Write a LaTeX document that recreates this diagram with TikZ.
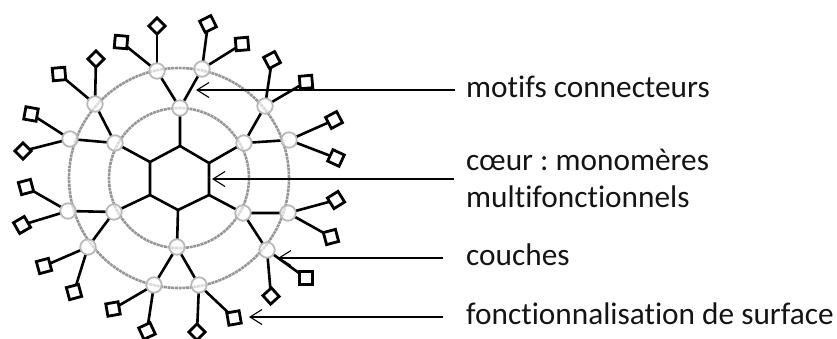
\documentclass[tikz,border=0pt]{standalone}
\usepackage{fontspec}
\setmainfont[Ligatures=NoCommon]{Carlito}
\usetikzlibrary{arrows.meta}
\definecolor{ringgrey}{RGB}{150,150,150}
\definecolor{hubgrey}{RGB}{185,185,185}
\definecolor{inktext}{RGB}{20,20,20}
\tikzset{
  x=1pt,y=-1pt,
  ring/.style={draw=ringgrey,line width=2.6pt,dash pattern=on 3pt off 0.7pt},
  hubbase/.style={circle,fill=white,minimum size=15.5pt,inner sep=0pt},
  hub/.style={circle,draw=hubgrey,line width=1.8pt,fill=white,fill opacity=0.65,draw opacity=1,minimum size=15.5pt,inner sep=0pt},
  bond/.style={draw=black,line width=2.6pt},
  endsq/.style={rectangle,draw=black,line width=2.8pt,fill=white,minimum size=12.5pt,inner sep=0pt},
  enddi/.style={endsq,minimum size=11.5pt},
  pointer/.style={draw=black,line width=1.2pt,-{Straight Barb[length=12pt,width=15pt,line width=1.1pt]}},
  lab/.style={anchor=base west,font=\fontsize{31.3}{37}\selectfont\frenchspacing,text=inktext,align=left,inner sep=0pt},
}
\begin{document}
\begin{tikzpicture}
\useasboundingbox (0,0) rectangle (837,338);
% core
\coordinate (h1) at (180,146);
\coordinate (h2) at (209,163);
\coordinate (h3) at (209,195);
\coordinate (h4) at (178,210);
\coordinate (h5) at (150,195);
\coordinate (h6) at (150,162);
\draw[bond,line join=miter] (h1)--(h2)--(h3)--(h4)--(h5)--(h6)--cycle;
% inner hubs
\foreach \n/\p in {i1/{180,108},i2/{244,143},i3/{243,213},i4/{177,247},i5/{114,212},i6/{115,143}}
  \coordinate (\n) at (\p);
% outer hubs
\foreach \n/\p in {a1/{157,71},a2/{202,69},b1/{265,106},b2/{289,140},c1/{288,213},c2/{267,250},d1/{199,285},d2/{154,285},e1/{88,247},e2/{68,211},f1/{70,139},f2/{95,104}}
  \coordinate (\n) at (\p);
\draw[bond] (h1)--(i1) (h2)--(i2) (h3)--(i3) (h4)--(i4) (h5)--(i5) (h6)--(i6);
\draw[bond] (i1)--(a1) (i1)--(a2) (i2)--(b1) (i2)--(b2) (i3)--(c1) (i3)--(c2) (i4)--(d1) (i4)--(d2) (i5)--(e1) (i5)--(e2) (i6)--(f1) (i6)--(f2);
% terminal groups: name/position/rotation/hub
\foreach \n/\p/\r/\h/\s in {
 t1/{157,26}/45/a1/enddi, t2/{121,42}/-5/a1/endsq,
 t3/{208,24}/27/a2/endsq, t4/{242,44}/5/a2/endsq,
 t5/{272,60}/28/b1/endsq, t6/{306,82}/5/b1/endsq,
 t7/{334,120}/28/b2/endsq, t8/{336,158}/-25/b2/endsq,
 t9/{336,200}/32/c1/endsq, t10/{331,237}/15/c1/endsq,
 t11/{306,278}/0/c2/endsq, t12/{271,296}/42/c2/enddi,
 t13/{234,318}/10/d1/endsq, t14/{197,332}/45/d1/enddi,
 t15/{113,309}/10/d2/endsq, t16/{147,331}/25/d2/endsq,
 t17/{44,266}/15/e1/endsq, t18/{74,292}/15/e1/endsq,
 t19/{26,187}/15/e2/endsq, t20/{22,225}/30/e2/endsq,
 t21/{31,114}/-10/f1/endsq, t22/{23,151}/45/f1/enddi,
 t23/{59,74}/5/f2/endsq, t24/{96,59}/45/f2/enddi}{
  \draw[bond] (\h)--(\p);
  \node[\s,rotate=\r] (\n) at (\p) {};
}
\foreach \n in {i1,i2,i3,i4,i5,i6,a1,a2,b1,b2,c1,c2,d1,d2,e1,e2,f1,f2}
  \node[hubbase] (w\n) at (\n) {};
\draw[ring] (179,178) circle (110);
\draw[ring] (179,178) circle (70);
\foreach \n in {i1,i2,i3,i4,i5,i6,a1,a2,b1,b2,c1,c2,d1,d2,e1,e2,f1,f2}
  \node[hub] (n\n) at (\n) {};
% labels
\node[lab] (l1) at (466,97) {motifs connecteurs};
\node[lab] (l2) at (466,207) {cœur : monomères\\multifonctionnels};
\node[lab] (l3) at (466,265) {couches};
\node[lab] (l4) at (466,324) {fonctionnalisation de surface};
% pointers
\coordinate (p1) at (455,90);  \coordinate (q1) at (196,90);
\coordinate (p2) at (454,179); \coordinate (q2) at (212,179);
\coordinate (p3) at (443,258); \coordinate (q3) at (278,258);
\coordinate (p4) at (443,317); \coordinate (q4) at (249,317);
\foreach \i in {1,2,3,4} \draw[pointer] (p\i)--(q\i);
\end{tikzpicture}
\end{document}
